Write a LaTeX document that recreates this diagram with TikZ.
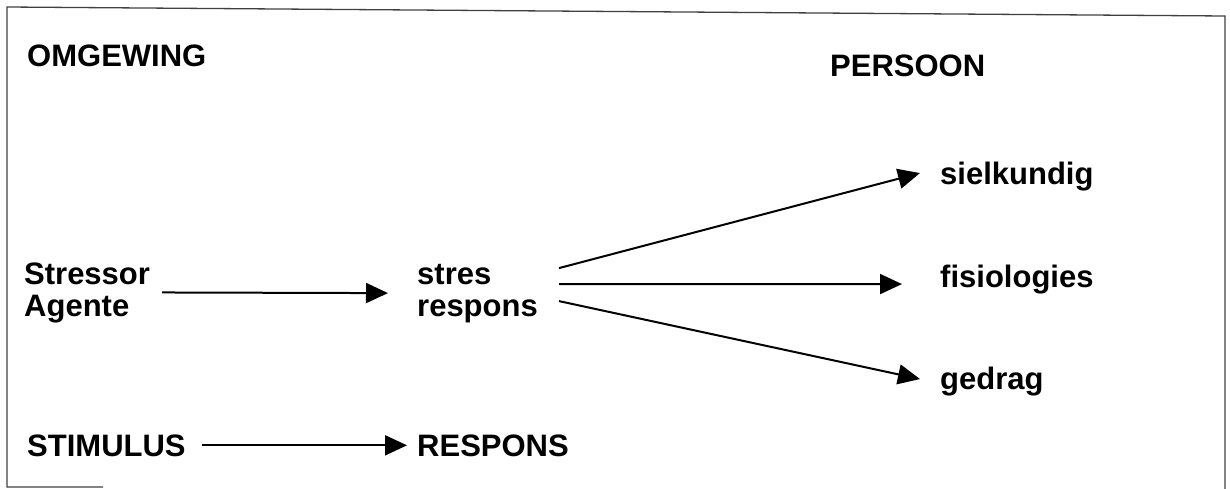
\documentclass[tikz,border=0pt]{standalone}
\usepackage{fontspec}
\setmainfont{Liberation Sans}
\usetikzlibrary{arrows.meta}
\begin{document}
\begin{tikzpicture}[x=1pt,y=-1pt,
  lbl/.style={font=\fontsize{31}{32}\selectfont\bfseries, inner sep=0pt,
    anchor=base west, align=left},
  conn/.style={line width=2pt, -{Triangle[length=22pt,width=20pt]}},
  frame/.style={line width=1.3pt, draw=black!75}]
\useasboundingbox (0,0) rectangle (1230,489);

% outer frame
\draw[frame] (103,487) -- (7,487) -- (7,7) -- (1225,16) -- (1225,489);

% headings
\node[lbl] (omg) at (27,67) {OMGEWING};
\node[lbl] (pers) at (830,77) {PERSOON};

% stressor and response (anchored on the baseline of the second line)
\node[lbl] (stressor) at (24,316) {Stressor\\Agente};
\node[lbl] (stres) at (417,316) {stres\\respons};

% kinds of response
\node[lbl] (siel) at (940,185) {sielkundig};
\node[lbl] (fisio) at (940,287) {fisiologies};
\node[lbl] (gedrag) at (940,389) {gedrag};

% bottom row
\node[lbl] (stim) at (27,456) {STIMULUS};
\node[lbl] (resp) at (417,456) {RESPONS};

% connectors
\draw[conn] ([xshift=12pt]stressor.east) -- ([xshift=-29pt]stres.west);
\draw[conn] ([xshift=21pt,yshift=25pt]stres.east) -- ([xshift=-20pt,yshift=4pt]siel.west);
\draw[conn] ([xshift=21pt,yshift=9pt]stres.east) -- ([xshift=-38pt,yshift=-5pt]fisio.west);
\draw[conn] ([xshift=21pt,yshift=-8pt]stres.east) -- ([xshift=-20pt,yshift=2pt]gedrag.west);
\draw[conn] ([xshift=16pt]stim.east) -- ([xshift=-10pt]resp.west);
\end{tikzpicture}
\end{document}
